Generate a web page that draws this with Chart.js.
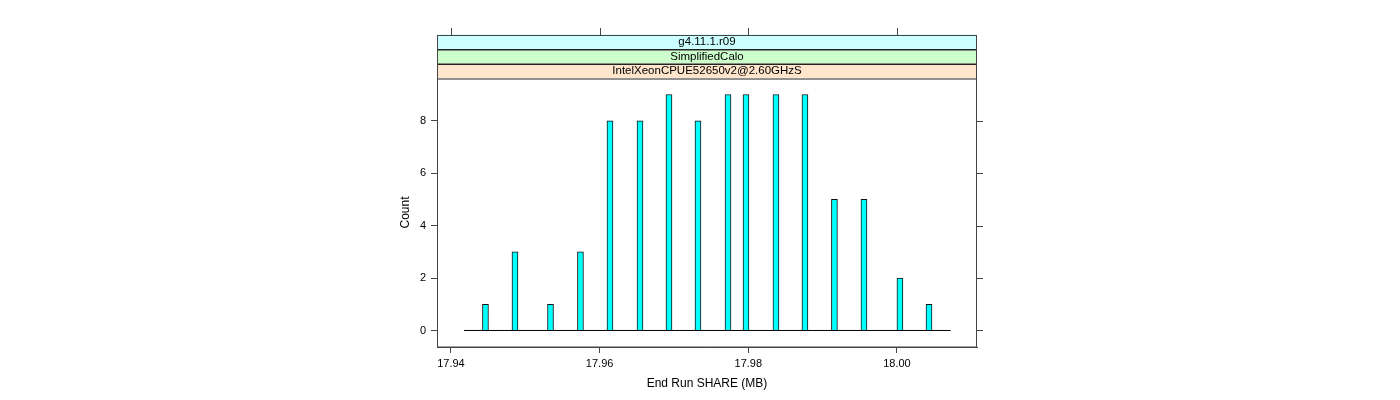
<!DOCTYPE html>
<html>
<head>
<meta charset="utf-8">
<script src="https://cdn.jsdelivr.net/npm/chart.js@4"></script>
<style>
  body { margin: 0; background: #fff; }
  #wrap { width: 1400px; height: 400px; }
</style>
</head>
<body>
<div id="wrap"><canvas id="hist" width="1400" height="400"></canvas></div>
<script>
// bar positions (MB) and counts
var binCenters = [17.94464, 17.94861, 17.95339, 17.95742, 17.96139, 17.96543, 17.96933, 17.97323,
                  17.97727, 17.97969, 17.98372, 17.98762, 17.99159, 17.99556, 18.00040, 18.00431];
var counts = [1, 3, 1, 3, 8, 8, 9, 8, 9, 9, 9, 9, 5, 5, 2, 1];
var breaksRange = [17.94175, 18.00723];
var xTicks = [17.94, 17.96, 17.98, 18.00];
var yTicks = [0, 2, 4, 6, 8];
var strips = ["IntelXeonCPUE52650v2@2.60GHzS", "SimplifiedCalo", "g4.11.1.r09"];
var stripColors = ["#ffe5cc", "#ccffcc", "#ccffff"];

var FONT = "'Liberation Sans', Arial, sans-serif";

var barData = binCenters.map(function (x, i) { return { x: x, y: counts[i] }; });
var baseLine = breaksRange.map(function (x) { return { x: x, y: 0 }; });

// strips, full panel box, top and right tick marks
var latticeBox = {
  id: "latticeBox",
  afterDraw: function (chart) {
    var ctx = chart.ctx;
    var a = chart.chartArea;
    var xs = chart.scales.x, ys = chart.scales.y;
    var stripH = 14.5;
    var top = a.top - stripH * strips.length;
    ctx.save();
    strips.forEach(function (txt, i) {
      var y0 = a.top - stripH * (i + 1);
      ctx.fillStyle = stripColors[i];
      ctx.fillRect(a.left, y0, a.right - a.left, stripH);
      ctx.strokeStyle = "#222";
      ctx.lineWidth = 1;
      ctx.strokeRect(a.left + 0.5, Math.round(y0) + 0.5, a.right - a.left - 1, stripH);
      ctx.fillStyle = "#000";
      ctx.font = "11.5px " + FONT;
      ctx.textAlign = "center";
      ctx.textBaseline = "middle";
      ctx.fillText(txt, (a.left + a.right) / 2, y0 + stripH / 2 + 0.5);
    });
    ctx.strokeStyle = "#444";
    ctx.lineWidth = 1;
    ctx.strokeRect(a.left + 0.5, Math.round(top) + 0.5, a.right - a.left - 1, a.bottom - Math.round(top) - 0.5);
    ctx.beginPath();
    xTicks.forEach(function (v) {
      var px = Math.round(xs.getPixelForValue(v)) + 0.5;
      ctx.moveTo(px, Math.round(top));
      ctx.lineTo(px, Math.round(top) - 7);
    });
    yTicks.forEach(function (v) {
      var py = Math.round(ys.getPixelForValue(v)) + 0.5;
      ctx.moveTo(a.right, py);
      ctx.lineTo(a.right + 6, py);
    });
    ctx.stroke();
    ctx.restore();
  }
};

new Chart(document.getElementById("hist").getContext("2d"), {
  type: "bar",
  data: {
    datasets: [
      {
        type: "line",
        data: baseLine,
        borderColor: "#000",
        borderWidth: 1,
        pointRadius: 0,
        order: 2
      },
      {
        type: "bar",
        data: barData,
        backgroundColor: "#00ffff",
        borderColor: "#111",
        borderWidth: 1,
        barThickness: 6,
        order: 1
      }
    ]
  },
  options: {
    responsive: false,
    animation: false,
    layout: { padding: { left: 390, right: 423, top: 78, bottom: 0 } },
    plugins: { legend: { display: false }, tooltip: { enabled: false } },
    scales: {
      x: {
        type: "linear",
        offset: false,
        min: 17.93812,
        max: 18.01077,
        afterFit: function (s) { s.height = 53; },
        afterBuildTicks: function (s) { s.ticks = xTicks.map(function (v) { return { value: v }; }); },
        ticks: {
          color: "#000",
          font: { family: FONT, size: 11 },
          padding: 4,
          maxRotation: 0,
          callback: function (v) { return v.toFixed(2); }
        },
        grid: { offset: false, drawOnChartArea: false, drawTicks: true, tickLength: 6, color: "#444" },
        border: { display: true, color: "#444" },
        title: {
          display: true,
          text: "End Run SHARE (MB)",
          color: "#000",
          font: { family: FONT, size: 12 },
          padding: { top: 0, bottom: 9 }
        }
      },
      y: {
        min: -0.63,
        max: 9.63,
        afterFit: function (s) { s.width = 47; },
        afterBuildTicks: function (s) { s.ticks = yTicks.map(function (v) { return { value: v }; }); },
        ticks: {
          color: "#000",
          font: { family: FONT, size: 11 },
          padding: 5
        },
        grid: { drawOnChartArea: false, drawTicks: true, tickLength: 6, color: "#444" },
        border: { display: true, color: "#444" },
        title: {
          display: true,
          text: "Count",
          color: "#000",
          font: { family: FONT, size: 12 },
          padding: { top: 8, bottom: 0 }
        }
      }
    }
  },
  plugins: [latticeBox]
});
</script>
</body>
</html>
